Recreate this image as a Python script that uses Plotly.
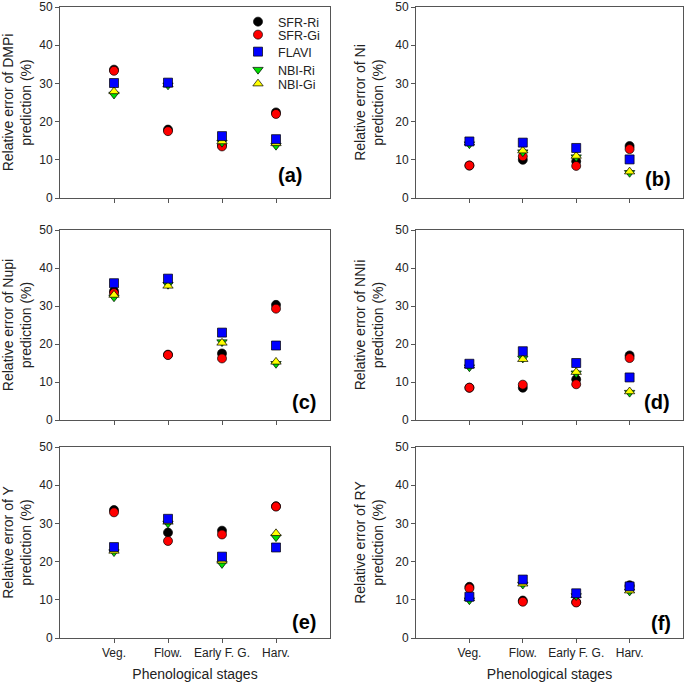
import plotly.graph_objects as go
from plotly.subplots import make_subplots

stages = ["Veg.", "Flow.", "Early F. G.", "Harv."]
series_names = ["SFR-Ri", "SFR-Gi", "FLAVI", "NBI-Ri", "NBI-Gi"]

# values per panel: series -> 4 stages
dmpi = {
    "SFR-Ri": [33.6, 17.9, 13.8, 22.4],
    "SFR-Gi": [33.3, 17.5, 13.5, 22.0],
    "FLAVI": [30.1, 30.2, 16.2, 15.4],
    "NBI-Ri": [27.1, 29.5, 14.5, 13.7],
    "NBI-Gi": [27.9, 29.7, 14.8, 14.3],
}
ni = {
    "SFR-Ri": [8.5, 10.0, 9.6, 13.6],
    "SFR-Gi": [8.5, 10.9, 8.4, 12.8],
    "FLAVI": [14.8, 14.5, 13.1, 10.1],
    "NBI-Ri": [14.1, 12.0, 10.7, 6.6],
    "NBI-Gi": [14.5, 12.4, 11.0, 6.9],
}
nupi = {
    "SFR-Ri": [33.9, 17.2, 17.5, 30.3],
    "SFR-Gi": [33.4, 17.1, 16.2, 29.3],
    "FLAVI": [36.0, 37.2, 23.0, 19.6],
    "NBI-Ri": [32.3, 35.6, 20.5, 14.8],
    "NBI-Gi": [32.9, 35.3, 20.3, 15.3],
}
nnii = {
    "SFR-Ri": [8.5, 8.5, 10.7, 17.0],
    "SFR-Gi": [8.5, 9.3, 9.4, 16.3],
    "FLAVI": [14.8, 18.1, 15.0, 11.2],
    "NBI-Ri": [13.9, 16.2, 12.3, 7.2],
    "NBI-Gi": [14.3, 16.0, 12.6, 7.5],
}
yld = {
    "SFR-Ri": [33.5, 27.6, 28.1, 34.5],
    "SFR-Gi": [32.9, 25.4, 27.1, 34.4],
    "FLAVI": [23.8, 31.2, 21.3, 23.7],
    "NBI-Ri": [22.5, 30.0, 19.4, 26.4],
    "NBI-Gi": [22.8, 30.4, 20.2, 27.4],
}
ry = {
    "SFR-Ri": [13.4, 9.8, 9.4, 13.8],
    "SFR-Gi": [13.0, 9.5, 9.3, 13.5],
    "FLAVI": [10.8, 15.3, 11.7, 13.5],
    "NBI-Ri": [9.9, 14.0, 11.0, 12.2],
    "NBI-Gi": [10.4, 14.2, 11.2, 12.4],
}

panels = [dmpi, ni, nupi, nnii, yld, ry]
ylabels = [
    "Relative error of DMPi<br>prediction (%)",
    "Relative error of Ni<br>prediction (%)",
    "Relative error of Nupi<br>prediction (%)",
    "Relative error of NNIi<br>prediction (%)",
    "Relative error of Y<br>prediction (%)",
    "Relative error of RY<br>prediction (%)",
]
tags = ["(a)", "(b)", "(c)", "(d)", "(e)", "(f)"]
yticks = [0, 10, 20, 30, 40, 50]

styles = {
    "SFR-Ri": dict(symbol="circle", color="#000000", legend="legend", ly=22),
    "SFR-Gi": dict(symbol="circle", color="#ff0000", legend="legend2", ly=35),
    "FLAVI": dict(symbol="square", color="#0000ff", legend="legend3", ly=52),
    "NBI-Ri": dict(symbol="triangle-down", color="#00e000", legend="legend4", ly=70),
    "NBI-Gi": dict(symbol="triangle-up", color="#ffff00", legend="legend5", ly=84),
}
draw_order = ["SFR-Ri", "SFR-Gi", "NBI-Ri", "NBI-Gi", "FLAVI"]

fig = make_subplots(rows=3, cols=2)

W, H = 685, 683


def fx(p):
    return p / W


def fy(p):
    return 1 - p / H


xdoms = [[fx(60), fx(330)], [fx(416), fx(683)]]
ydoms = [[fy(198), fy(7)], [fy(420), fy(230)], [fy(638), fy(447)]]
tag_pos = [(0.905, 0.12), (0.963, 0.10), (0.956, 0.096), (0.959, 0.095), (0.956, 0.084), (0.963, 0.078)]

font = "Arial, Liberation Sans, sans-serif"
axcol = "#555555"

for i, data in enumerate(panels):
    r, c = i // 2 + 1, i % 2 + 1
    for name in draw_order:
        st = styles[name]
        fig.add_trace(
            go.Scatter(
                x=stages,
                y=data[name],
                mode="markers",
                name=name,
                legend=st["legend"],
                showlegend=(i == 0),
                marker=dict(symbol=st["symbol"], color=st["color"], size=9,
                            line=dict(color="#000000", width=0.7)),
            ),
            row=r, col=c,
        )
    last_row = r == 3
    fig.update_xaxes(
        type="category", range=[-1, 4], domain=xdoms[c - 1],
        showline=True, linecolor=axcol, linewidth=1, mirror=True,
        ticks="outside", ticklen=4, tickcolor=axcol, showgrid=False, zeroline=False,
        showticklabels=last_row, tickfont=dict(family=font, size=12, color="#222222"),
        title=dict(text="Phenological stages" if last_row else "", font=dict(family=font, size=14, color="#222222"), standoff=9),
        row=r, col=c,
    )
    fig.update_yaxes(
        range=[0, 50], tickvals=yticks, domain=ydoms[r - 1],
        showline=True, linecolor=axcol, linewidth=1, mirror=True,
        ticks="outside", ticklen=4, tickcolor=axcol, showgrid=False, zeroline=False,
        ticklabeloverflow="allow",
        tickfont=dict(family=font, size=12, color="#222222"),
        title=dict(text=ylabels[i], font=dict(family=font, size=14, color="#222222"), standoff=8),
        row=r, col=c,
    )
    xa = "x" if i == 0 else f"x{i+1}"
    ya = "y" if i == 0 else f"y{i+1}"
    fig.add_annotation(
        text=f"<b>{tags[i]}</b>", x=tag_pos[i][0], y=tag_pos[i][1],
        xref=f"{xa} domain", yref=f"{ya} domain", xanchor="right", yanchor="middle",
        showarrow=False, font=dict(family=font, size=20, color="#000000"),
    )

legend_common = dict(xanchor="left", yanchor="middle", bgcolor="rgba(0,0,0,0)",
                     font=dict(family=font, size=12.5, color="#222222"), itemwidth=30)
layout_legends = {}
for name in series_names:
    st = styles[name]
    layout_legends[st["legend"]] = dict(x=fx(238), y=fy(st["ly"]), **legend_common)

fig.update_layout(
    width=W, height=H, template="none",
    paper_bgcolor="white", plot_bgcolor="white",
    margin=dict(l=0, r=0, t=0, b=0),
    font=dict(family=font, color="#222222"),
    **layout_legends,
)

fig.write_html("out.html", config={"displayModeBar": False},
               post_script="document.body.style.margin='0';")
